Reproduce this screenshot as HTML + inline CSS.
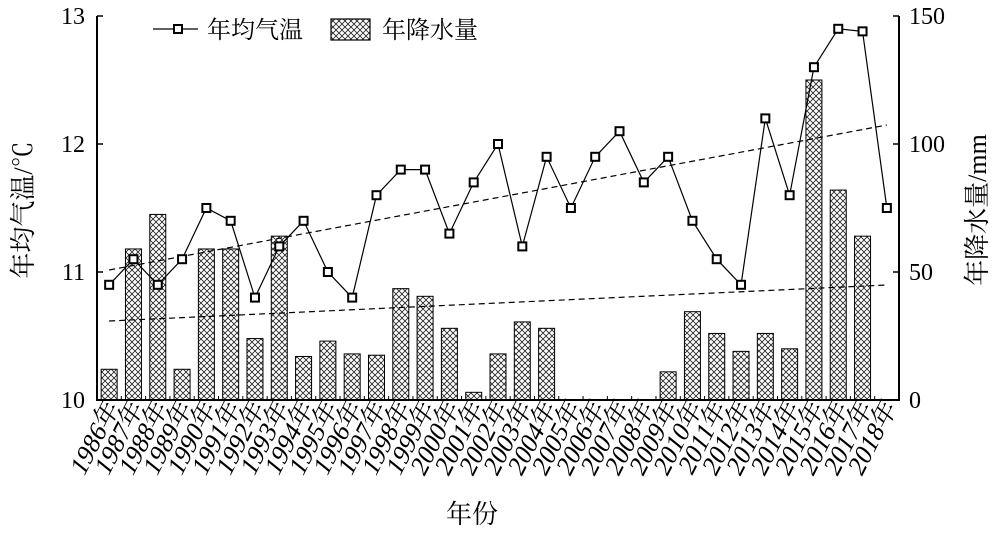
<!DOCTYPE html>
<html><head><meta charset="utf-8"><style>
body{margin:0;background:#fff}
svg{display:block;font-family:"Liberation Serif","Noto Serif CJK SC",serif}
</style></head><body>
<svg id="c" width="1000" height="535" xmlns="http://www.w3.org/2000/svg">
<defs>
<pattern id="h" width="6" height="6" patternUnits="userSpaceOnUse">
<rect width="6" height="6" fill="#fff"/>
<path d="M0 0L6 6M6 0L0 6" stroke="#222" stroke-width="0.8"/>
</pattern>
</defs>
<g id="g"></g>
</svg>
<script>
const g=document.getElementById('g');
let s='';
const L=97,R=899,T=16,B=400,W=(R-L)/33;
const temp=[10.9,11.1,10.9,11.1,11.5,11.4,10.8,11.2,11.4,11.0,10.8,11.6,11.8,11.8,11.3,11.7,12.0,11.2,11.9,11.5,11.9,12.1,11.7,11.9,11.4,11.1,10.9,12.2,11.6,12.6,12.9,12.88,11.5];
const pr=[12,59,72.5,12,59,59,24,64,17,23,18,17.5,43.5,40.5,28,3,18,30.5,28,0,0,0,0,11,34.5,26,19,26,20,125,82,64,0];
const cx=i=>L+W*(i+0.5), ty=t=>B-(t-10)*128, py=p=>B-p*2.56;
pr.forEach((p,i)=>{if(p>0){s+=`<rect x="${cx(i)-8}" y="${py(p)}" width="16" height="${B-py(p)}" fill="url(#h)" stroke="#000" stroke-width="1"/>`;}});
s+=`<line x1="${cx(0)}" y1="270" x2="${cx(32)}" y2="125" stroke="#000" stroke-width="1.2" stroke-dasharray="6,4"/>`;
s+=`<line x1="${cx(0)}" y1="321" x2="${cx(32)}" y2="285" stroke="#000" stroke-width="1.2" stroke-dasharray="6,4"/>`;
s+=`<polyline fill="none" stroke="#000" stroke-width="1.2" points="${temp.map((t,i)=>cx(i)+','+ty(t)).join(' ')}"/>`;
temp.forEach((t,i)=>{s+=`<rect x="${cx(i)-4}" y="${ty(t)-4}" width="8" height="8" fill="#fff" stroke="#000" stroke-width="2"/>`;});
s+=`<path d="M${L} ${T}V${B}H${R}V${T}" fill="none" stroke="#000" stroke-width="2"/>`;
for(let k=0;k<=3;k++){let y=B-k*128;s+=`<line x1="${L}" y1="${y}" x2="${L+6}" y2="${y}" stroke="#000" stroke-width="1.5"/><line x1="${R}" y1="${y}" x2="${R-6}" y2="${y}" stroke="#000" stroke-width="1.5"/>`;
s+=`<text x="${L-12}" y="${y+8}" font-size="24" text-anchor="end">${10+k}</text>`;
s+=`<text x="${R+10}" y="${y+8}" font-size="24">${k*50}</text>`;}
for(let i=1;i<33;i++){let x=L+W*i;s+=`<line x1="${x}" y1="${B}" x2="${x}" y2="${B-4}" stroke="#000" stroke-width="1"/>`;}
for(let i=0;i<33;i++){let x=cx(i)+10,y=408;s+=`<text transform="translate(${x},${y}) rotate(-63) skewX(-12)" font-size="26" text-anchor="end">${1986+i}年</text>`;}
s+=`<text x="472" y="523" font-size="26" text-anchor="middle">年份</text>`;
s+=`<text transform="translate(32,210) rotate(-90)" font-size="26" text-anchor="middle">年均气温/℃</text>`;
s+=`<text transform="translate(986,210) rotate(-90)" font-size="26" text-anchor="middle">年降水量/mm</text>`;
s+=`<line x1="153" y1="29" x2="198" y2="29" stroke="#000" stroke-width="1.2"/><rect x="174" y="25" width="8" height="8" fill="#fff" stroke="#000" stroke-width="2"/>`;
s+=`<text x="207" y="38" font-size="24">年均气温</text>`;
s+=`<rect x="331" y="19" width="39" height="21" fill="url(#h)" stroke="#000" stroke-width="1.2"/>`;
s+=`<text x="382" y="38" font-size="24">年降水量</text>`;
g.innerHTML=s;
</script>
</body></html>
